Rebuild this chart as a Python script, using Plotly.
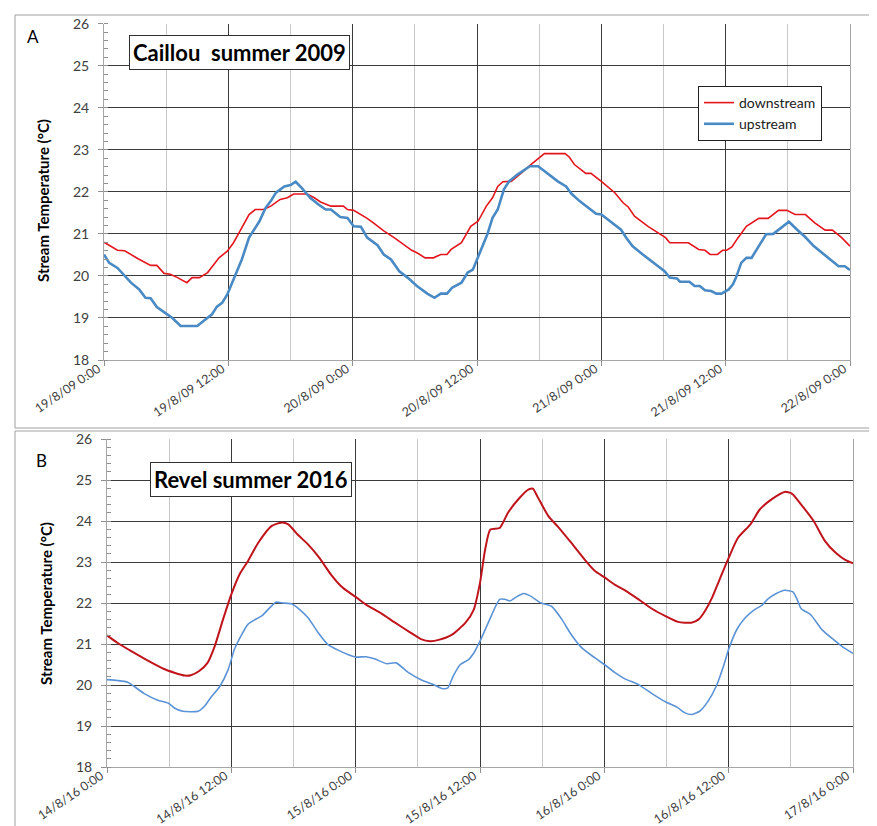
import pandas as pd
import plotly.graph_objects as go

# ---------------- Panel A: Caillou summer 2009 (hours after 19/8/09 0:00) ----------------
a_down_h = [0, 1.3, 2.0, 2.6, 3.2, 4.5, 5.1, 5.8, 6.4, 7.1, 8.0, 8.5, 9.2, 10.0, 10.4, 11.1, 11.9,
            12.5, 13.2, 14.0, 14.6, 15.4, 16.1, 17.0, 17.7, 18.3, 19.6, 20.3, 20.9, 21.9, 23.1,
            23.5, 24.1, 24.8, 25.4, 26.0, 27.0, 28.0, 28.9, 29.7, 30.2, 31.0, 31.8, 32.5, 33.1,
            33.5, 34.5, 35.4, 36.1, 36.9, 37.5, 38.0, 38.5, 39.3, 40.3, 41.2, 42.5, 44.5, 44.9,
            45.4, 46.5, 47.0, 48.0, 49.3, 50.1, 50.6, 51.2, 52.5, 54.2, 54.6, 56.4, 57.4, 58.0,
            58.5, 59.2, 59.7, 60.1, 60.6, 61.2, 62.0, 63.2, 64.1, 65.1, 65.9, 66.7, 67.7, 68.6,
            69.6, 70.3, 71.2, 72.0]
a_down_t = [20.80, 20.61, 20.60, 20.51, 20.42, 20.25, 20.25, 20.06, 20.04, 19.96, 19.84, 19.96,
            19.96, 20.08, 20.20, 20.43, 20.59, 20.79, 21.10, 21.46, 21.58, 21.58, 21.66, 21.82,
            21.86, 21.95, 21.95, 21.86, 21.76, 21.66, 21.66, 21.58, 21.56, 21.46, 21.37, 21.26,
            21.07, 20.91, 20.75, 20.61, 20.55, 20.43, 20.43, 20.51, 20.51, 20.63, 20.79, 21.18,
            21.30, 21.66, 21.86, 22.13, 22.24, 22.25, 22.45, 22.65, 22.91, 22.91, 22.83, 22.65,
            22.44, 22.44, 22.25, 21.98, 21.74, 21.64, 21.42, 21.18, 20.91, 20.79, 20.79, 20.63,
            20.61, 20.51, 20.51, 20.61, 20.61, 20.69, 20.91, 21.18, 21.37, 21.37, 21.56, 21.56,
            21.46, 21.46, 21.26, 21.09, 21.09, 20.91, 20.71]

a_up_h = [0, 0.5, 1.3, 1.9, 2.6, 3.4, 4.0, 4.5, 5.1, 5.9, 6.6, 7.4, 9.0, 9.6, 10.4, 10.9, 11.4,
          11.9, 12.5, 13.3, 14.0, 14.5, 15.0, 15.6, 16.1, 16.6, 17.4, 18.0, 18.5, 19.1, 19.9,
          20.7, 21.4, 21.9, 22.8, 23.5, 24.1, 24.8, 25.4, 26.4, 27.0, 27.7, 28.5, 29.3, 30.2,
          31.2, 31.9, 32.5, 33.1, 33.6, 34.5, 35.1, 35.6, 36.2, 37.0, 37.5, 38.0, 38.6, 39.1,
          39.9, 41.1, 41.9, 42.8, 43.8, 44.6, 45.1, 45.9, 46.7, 47.5, 48.0, 48.8, 49.9, 50.4,
          51.0, 52.0, 53.0, 54.1, 54.6, 55.3, 55.6, 56.5, 57.0, 57.5, 58.0, 58.6, 59.1, 59.6,
          60.3, 60.7, 61.0, 61.5, 62.0, 62.5, 63.3, 63.9, 64.6, 66.1, 66.9, 67.7, 68.5, 69.3,
          70.1, 70.9, 71.5, 72.0]
a_up_t = [20.51, 20.31, 20.19, 20.04, 19.84, 19.68, 19.48, 19.47, 19.26, 19.12, 19.00, 18.81,
          18.81, 18.93, 19.08, 19.27, 19.36, 19.56, 19.92, 20.39, 20.91, 21.10, 21.30, 21.62,
          21.78, 21.98, 22.13, 22.16, 22.24, 22.09, 21.86, 21.70, 21.58, 21.58, 21.40, 21.38,
          21.18, 21.17, 20.91, 20.73, 20.51, 20.39, 20.11, 19.96, 19.76, 19.58, 19.48, 19.58,
          19.58, 19.72, 19.84, 20.08, 20.15, 20.51, 20.99, 21.38, 21.58, 22.06, 22.25, 22.41,
          22.61, 22.61, 22.44, 22.25, 22.13, 21.96, 21.78, 21.64, 21.48, 21.46, 21.30, 21.10,
          20.91, 20.71, 20.51, 20.31, 20.11, 19.96, 19.94, 19.86, 19.86, 19.76, 19.76, 19.66,
          19.64, 19.58, 19.58, 19.68, 19.80, 19.96, 20.31, 20.43, 20.43, 20.75, 20.99, 21.00,
          21.29, 21.10, 20.92, 20.71, 20.55, 20.39, 20.23, 20.23, 20.14]

# ---------------- Panel B: Revel summer 2016 (hours after 14/8/16 0:00) ----------------
b_down_h = [0, 1.0, 2.3, 3.9, 5.5, 6.5, 7.5, 8.1, 8.9, 9.7, 10.4, 11.2, 12.0, 12.8, 13.6, 14.6,
            15.9, 16.8, 17.5, 18.4, 19.4, 20.5, 21.6, 22.6, 23.3, 24.0, 25.0, 26.5, 27.8, 29.1,
            30.3, 31.2, 32.0, 33.3, 34.6, 35.4, 36.0, 36.5, 37.0, 37.9, 38.7, 39.7, 40.7, 41.1,
            41.6, 42.6, 43.6, 44.8, 46.1, 47.1, 48.0, 49.0, 50.0, 51.3, 52.6, 53.9, 55.1, 56.4,
            57.1, 57.7, 58.4, 59.2, 60.0, 60.9, 62.1, 63.0, 64.2, 65.4, 66.1, 67.0, 68.2, 69.3,
            70.3, 71.2, 72.0]
b_down_t = [21.21, 21.03, 20.83, 20.60, 20.39, 20.30, 20.23, 20.24, 20.34, 20.54, 20.95, 21.60,
            22.21, 22.70, 23.02, 23.47, 23.88, 23.96, 23.92, 23.67, 23.43, 23.10, 22.70, 22.41,
            22.27, 22.15, 21.96, 21.74, 21.52, 21.31, 21.12, 21.07, 21.10, 21.23, 21.52, 21.84,
            22.49, 23.31, 23.79, 23.83, 24.20, 24.53, 24.77, 24.79, 24.57, 24.12, 23.84, 23.47,
            23.06, 22.78, 22.63, 22.45, 22.31, 22.09, 21.86, 21.68, 21.54, 21.52, 21.60, 21.80,
            22.13, 22.62, 23.10, 23.59, 23.92, 24.28, 24.54, 24.71, 24.67, 24.40, 24.00, 23.51,
            23.23, 23.06, 22.97]

b_up_h = [0, 1.0, 2.0, 2.6, 3.6, 4.9, 5.9, 6.5, 7.3, 8.8, 9.4, 10.0, 10.9, 11.7, 12.3, 13.0,
          13.6, 14.4, 15.0, 15.7, 16.3, 17.0, 17.8, 18.6, 19.4, 20.4, 21.3, 22.3, 23.3, 24.1,
          25.0, 25.8, 27.0, 27.9, 29.1, 30.3, 31.5, 32.4, 32.9, 33.4, 34.1, 34.9, 35.4, 36.0,
          36.8, 37.9, 38.4, 38.9, 39.4, 40.2, 40.8, 41.9, 42.9, 43.9, 44.8, 45.8, 47.1, 48.0,
          49.0, 50.0, 51.3, 52.6, 53.9, 55.0, 55.8, 56.4, 57.2, 58.0, 58.8, 59.5, 60.0, 60.8,
          61.6, 62.5, 63.2, 63.8, 64.6, 65.4, 66.2, 66.6, 67.0, 67.9, 69.0, 70.1, 71.1, 72.0]
b_up_t = [20.13, 20.11, 20.07, 19.97, 19.79, 19.63, 19.56, 19.44, 19.36, 19.36, 19.48, 19.69,
          19.97, 20.38, 20.87, 21.23, 21.48, 21.61, 21.70, 21.88, 22.02, 22.00, 21.98, 21.84,
          21.64, 21.27, 20.99, 20.85, 20.74, 20.68, 20.69, 20.64, 20.52, 20.54, 20.30, 20.13,
          20.01, 19.91, 19.93, 20.21, 20.50, 20.62, 20.78, 21.07, 21.52, 22.09, 22.09, 22.05,
          22.13, 22.23, 22.18, 22.00, 21.92, 21.60, 21.23, 20.91, 20.66, 20.50, 20.31, 20.15,
          20.01, 19.79, 19.59, 19.46, 19.32, 19.28, 19.36, 19.60, 19.97, 20.46, 20.87, 21.36,
          21.64, 21.84, 21.94, 22.10, 22.23, 22.31, 22.27, 22.09, 21.86, 21.72, 21.35, 21.11,
          20.91, 20.77]

a_start = pd.Timestamp("2009-08-19 00:00")
b_start = pd.Timestamp("2016-08-14 00:00")
y_ticks = [18, 19, 20, 21, 22, 23, 24, 25, 26]
a_title = "Caillou  summer 2009"
b_title = "Revel summer 2016"
y_label = "Stream Temperature (°C)"


def to_dt(start, hours):
    return start + pd.to_timedelta(hours, unit="h")


W, H = 877, 826
FONT = "Lato, 'Liberation Sans', sans-serif"
fig = go.Figure()

fig.add_trace(go.Scatter(x=to_dt(a_start, a_down_h), y=a_down_t, mode="lines", name="downstream",
                         line=dict(color="#e3161d", width=1.6), xaxis="x", yaxis="y"))
fig.add_trace(go.Scatter(x=to_dt(a_start, a_up_h), y=a_up_t, mode="lines", name="upstream",
                         line=dict(color="#4a8ac4", width=2.6), xaxis="x", yaxis="y"))
fig.add_trace(go.Scatter(x=to_dt(b_start, b_down_h), y=b_down_t, mode="lines", name="downstream",
                         line=dict(color="#c0141c", width=2, shape="spline", smoothing=0.6),
                         showlegend=False, xaxis="x2", yaxis="y2"))
fig.add_trace(go.Scatter(x=to_dt(b_start, b_up_h), y=b_up_t, mode="lines", name="upstream",
                         line=dict(color="#5b93d6", width=1.6, shape="spline", smoothing=0.6),
                         showlegend=False, xaxis="x2", yaxis="y2"))


def xaxis_cfg(start, domain, anchor):
    return dict(
        domain=domain, anchor=anchor, type="date", automargin=False,
        range=[start, start + pd.Timedelta(hours=72)],
        tick0=start, dtick=12 * 3600 * 1000, tickformat="%-d/%-m/%y %-H:%M",
        tickangle=-34, tickfont=dict(family=FONT, size=12.5, color="#404040"),
        ticklabelstandoff=-9, ticklabelshift=-6,
        ticks="outside", ticklen=5, tickcolor="#909090",
        showgrid=True, gridcolor="#3a3a3a", gridwidth=1,
        minor=dict(dtick=6 * 3600 * 1000, tick0=start, showgrid=True,
                   gridcolor="#c8c8c8", gridwidth=1, ticks=""),
        showline=True, linecolor="#a6a6a6", linewidth=1, mirror=False,
        zeroline=False, fixedrange=True,
    )


def yaxis_cfg(domain, anchor):
    return dict(
        domain=domain, anchor=anchor, range=[18, 26], tickvals=y_ticks, automargin=False,
        tickfont=dict(family=FONT, size=14, color="#404040"),
        ticklabelstandoff=6,
        ticks="outside", ticklen=5, tickcolor="#909090",
        showgrid=True, gridcolor="#3a3a3a", gridwidth=1,
        minor=dict(dtick=0.2, ticks="inside", ticklen=4, tickcolor="#909090", showgrid=False),
        showline=True, linecolor="#a6a6a6", linewidth=1, mirror=True,
        zeroline=False, fixedrange=True,
    )


def ann(text, px, py, size, bold=False, box=False, angle=0):
    d = dict(text=text, xref="paper", yref="paper", x=px / W, y=1 - py / H,
             xanchor="center", yanchor="middle", showarrow=False, textangle=angle,
             font=dict(family=FONT, size=size, color="black", weight="bold" if bold else "normal"))
    if box:
        d.update(bgcolor="white", bordercolor="#303030", borderwidth=1, borderpad=3)
    return d


fig.update_layout(
    width=W, height=H,
    margin=dict(l=0, r=0, t=0, b=0),
    paper_bgcolor="white", plot_bgcolor="white",
    font=dict(family=FONT),
    xaxis=xaxis_cfg(a_start, [96 / W, 842 / W], "y"),
    yaxis=yaxis_cfg([1 - 352 / H, 1 - 15.7 / H], "x"),
    xaxis2=xaxis_cfg(b_start, [99 / W, 845 / W], "y2"),
    yaxis2=yaxis_cfg([1 - 759 / H, 1 - 431 / H], "x2"),
    showlegend=True,
    legend=dict(x=690 / W, y=1 - 78 / H, xanchor="left", yanchor="top",
                bgcolor="white", bordercolor="#202020", borderwidth=1,
                font=dict(family=FONT, size=14, color="#202020"),
                itemwidth=30, tracegroupgap=4),
    shapes=[
        dict(type="rect", xref="paper", yref="paper", x0=7 / W, x1=1.002, y0=1 - 420 / H, y1=1 - 7 / H,
             line=dict(color="#a0a0a0", width=1), layer="below"),
        dict(type="rect", xref="paper", yref="paper", x0=7 / W, x1=1.002, y0=-0.01, y1=1 - 423 / H,
             line=dict(color="#a0a0a0", width=1), layer="below"),
    ],
    annotations=[
        ann(a_title, 231, 44, 22, bold=True, box=True),
        ann(b_title, 242.5, 471.5, 22, bold=True, box=True),
        ann("A", 25, 28, 17),
        ann("B", 33, 453, 17),
        ann(y_label, 35, 193, 15, bold=True, angle=-90),
        ann(y_label, 38, 596, 15, bold=True, angle=-90),
    ],
)

fig.write_html("out.html")
